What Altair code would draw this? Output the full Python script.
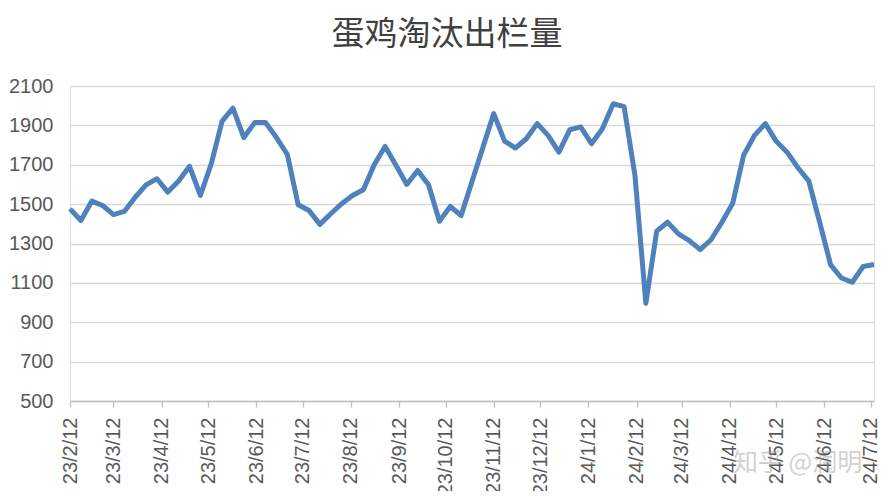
import altair as alt
import pandas as pd

# Weekly observations, first week 2023-02-12
start_date = "2023-02-12"
n_weeks = 75
values = [
    1476, 1417, 1515, 1493, 1447, 1463, 1535, 1598, 1629, 1561,
    1617, 1692, 1544, 1705, 1922, 1988, 1838, 1914, 1914, 1838,
    1753, 1497, 1468, 1397, 1451, 1502, 1544, 1573, 1700, 1793,
    1697, 1600, 1671, 1598, 1413, 1488, 1442, 1615, 1787, 1960,
    1820, 1785, 1832, 1909, 1849, 1764, 1878, 1892, 1807, 1883,
    2010, 1995, 1645, 996, 1363, 1408, 1349, 1315, 1269, 1319,
    1408, 1505, 1748, 1849, 1909, 1819, 1764, 1685, 1617, 1408,
    1193, 1125, 1103, 1183, 1193,
]
# tick labels: the 12th of each month
tick_months = [(2023, m) for m in range(2, 13)] + [(2024, m) for m in range(1, 8)]
y_ticks = [500, 700, 900, 1100, 1300, 1500, 1700, 1900, 2100]

dates = pd.date_range(start_date, periods=n_weeks, freq="7D").strftime("%Y-%m-%d").tolist()
df = pd.DataFrame({"date": dates, "value": values})

tick_vals = [alt.DateTime(year=y, month=m, date=12, utc=True) for y, m in tick_months]

base = alt.Chart(df)

line = base.mark_line(color="#4F81BD", strokeWidth=5, strokeJoin="round").encode(
    x=alt.X(
        "date:T",
        scale=alt.Scale(
            type="utc",
            domain=[alt.DateTime(year=2023, month=2, date=12, utc=True),
                    alt.DateTime(year=2024, month=7, date=14, utc=True)],
            nice=False,
        ),
        axis=alt.Axis(
            values=tick_vals,
            format="%y/%-m/%d",
            labelAngle=270,
            labelFontSize=20,
            labelFont="Liberation Sans",
            labelColor="#595959",
            labelPadding=10,
            labelOverlap=False,
            labelFlush=False,
            grid=False,
            domainColor="#BFBFBF",
            domainWidth=1.3,
            tickColor="#BFBFBF",
            tickSize=6,
            tickWidth=1.3,
            title=None,
        ),
    ),
    y=alt.Y(
        "value:Q",
        scale=alt.Scale(domain=[500, 2100], nice=False, zero=False),
        axis=alt.Axis(
            values=y_ticks,
            format="d",
            labelFontSize=20,
            labelFont="Liberation Sans",
            labelColor="#595959",
            labelPadding=17,
            ticks=False,
            domain=False,
            gridColor="#D9D9D9",
            gridWidth=1.3,
            title=None,
        ),
    ),
)

watermark = alt.Chart(pd.DataFrame({"t": ["知乎 @润明"]})).mark_text(
    font="Noto Sans CJK SC", fontSize=25, color="#9A9A9A", opacity=0.45, align="left", baseline="middle"
).encode(text="t:N", x=alt.value(663), y=alt.value(377))

chart = alt.layer(line, watermark).properties(
    width=804,
    height=315,
    title=alt.TitleParams(
        "蛋鸡淘汰出栏量",
        font="Noto Sans CJK SC",
        fontSize=33,
        fontWeight="normal",
        color="#404040",
        anchor="middle",
        dx=-25,
        offset=24,
    ),
    padding={"left": 62, "top": 78, "right": 8, "bottom": 90},
    autosize=alt.AutoSizeParams(type="none"),
).configure_view(stroke=None).configure(background="white")

chart.save("out.html", embed_options={"renderer": "svg", "actions": False})
